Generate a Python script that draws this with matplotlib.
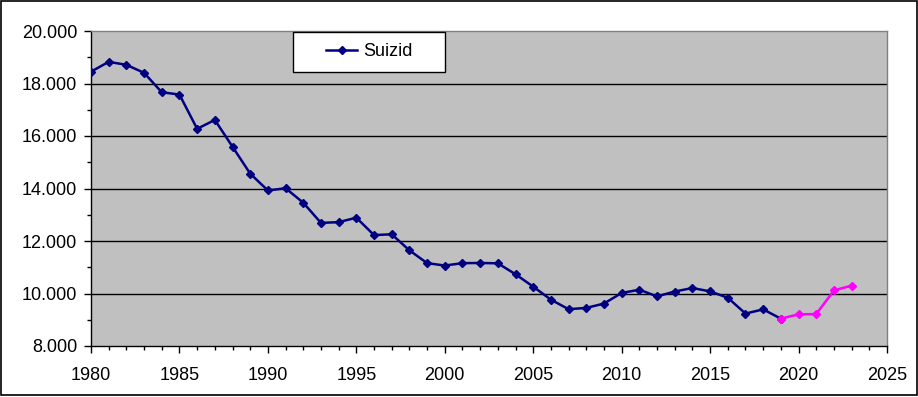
import matplotlib
matplotlib.use("Agg")
import matplotlib.pyplot as plt
from matplotlib.patches import Rectangle
from matplotlib.ticker import FuncFormatter, MultipleLocator

plt.rcParams['font.family'] = ['Liberation Sans', 'DejaVu Sans']

years_main = list(range(1980, 2020))
values_main = [18451, 18825, 18711, 18406, 17667, 17579, 16273, 16612, 15591, 14566,
               13924, 14011, 13458, 12690, 12718, 12888, 12225, 12256, 11644, 11157,
               11065, 11156, 11163, 11150, 10733, 10260, 9765, 9402, 9451, 9616,
               10021, 10144, 9890, 10076, 10209, 10080, 9838, 9235, 9396, 9041]
years_new = [2019, 2020, 2021, 2022, 2023]
values_new = [9041, 9206, 9215, 10119, 10300]
series_label = "Suizid"
y_ticks = [8000, 10000, 12000, 14000, 16000, 18000, 20000]
x_ticks = [1980, 1985, 1990, 1995, 2000, 2005, 2010, 2015, 2020, 2025]

W, H = 918, 397
fig = plt.figure(figsize=(W / 100, H / 100), dpi=100)
ax = fig.add_axes([91 / W, 51 / H, (887 - 91) / W, (346 - 31) / H])
ax.set_facecolor('#C0C0C0')

for yv in y_ticks[1:-1]:
    ax.axhline(yv, color='black', lw=1, zorder=1)

navy = '#000080'
magenta = '#FF00FF'
line_main, = ax.plot(years_main, values_main, color=navy, lw=1.8, marker='D',
                     markersize=3.8, markerfacecolor=navy, markeredgecolor=navy,
                     zorder=3, label=series_label)
ax.plot(years_new, values_new, color=magenta, lw=1.8, marker='D',
        markersize=3.8, markerfacecolor=magenta, markeredgecolor=magenta, zorder=3)

ax.set_xlim(1980, 2025)
ax.set_ylim(8000, 20000)
ax.set_xticks(x_ticks)
ax.set_yticks(y_ticks)
ax.xaxis.set_minor_locator(MultipleLocator(1))
ax.yaxis.set_minor_locator(MultipleLocator(1000))
ax.yaxis.set_major_formatter(FuncFormatter(lambda v, p: f"{v:,.0f}".replace(',', '.')))

ax.tick_params(axis='both', which='major', direction='out', length=5, width=1,
               labelsize=13, colors='black')
ax.tick_params(axis='y', which='major', pad=5)
ax.tick_params(axis='x', which='major', pad=10)
ax.tick_params(axis='both', which='minor', direction='out', length=3, width=1)

for s in ['left', 'bottom']:
    ax.spines[s].set_color('black')
    ax.spines[s].set_linewidth(1)
for s in ['top', 'right']:
    ax.spines[s].set_color('#808080')
    ax.spines[s].set_linewidth(1)

# legend box
fig.patches.append(Rectangle((293 / W, 1 - 72 / H), (445 - 293) / W, 40 / H,
                             transform=fig.transFigure, facecolor='white',
                             edgecolor='black', lw=1, zorder=5))
leg = fig.legend(handles=[line_main], loc='center', bbox_to_anchor=(369 / W, 1 - 52 / H),
                 frameon=False, fontsize=13, handlelength=1.75, handletextpad=0.3,
                 borderaxespad=0)
leg.set_zorder(6)

# figure border
fig.patches.append(Rectangle((0.5 / W, 2.5 / H), 916 / W, 394 / H,
                             transform=fig.transFigure, fill=False,
                             edgecolor='black', lw=1.2, zorder=10))

fig.savefig('out.png', dpi=100)
